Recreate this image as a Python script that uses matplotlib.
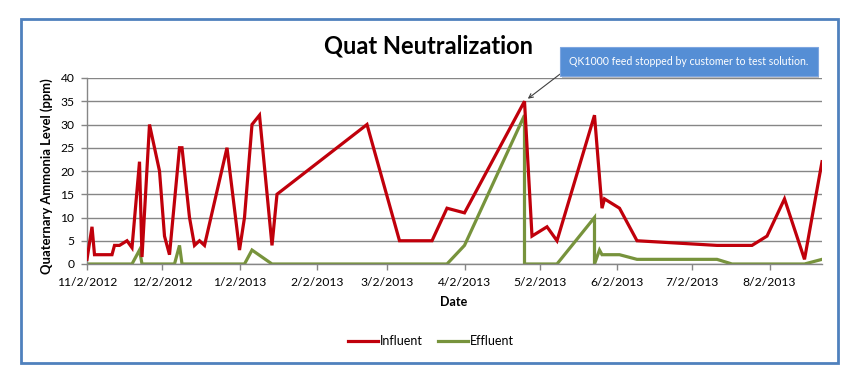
import datetime as dt
import matplotlib
matplotlib.use("Agg")
import matplotlib.pyplot as plt
import matplotlib.dates as mdates
import matplotlib.patheffects as pe
from matplotlib.patches import Rectangle
from matplotlib.ticker import FuncFormatter, MultipleLocator

plt.rcParams['font.family'] = ['Lato', 'DejaVu Sans']

# Influent readings (date, ppm)
influent_dates = [
    "2012-11-02", "2012-11-04", "2012-11-05", "2012-11-08", "2012-11-12", "2012-11-13",
    "2012-11-15", "2012-11-18", "2012-11-20", "2012-11-23", "2012-11-24", "2012-11-27",
    "2012-12-01", "2012-12-03", "2012-12-05", "2012-12-09", "2012-12-10", "2012-12-13",
    "2012-12-15", "2012-12-17", "2012-12-19", "2012-12-28", "2013-01-02", "2013-01-04",
    "2013-01-07", "2013-01-10", "2013-01-15", "2013-01-17", "2013-02-22", "2013-03-07",
    "2013-03-20", "2013-03-26", "2013-04-02", "2013-04-26", "2013-04-29", "2013-05-05",
    "2013-05-09", "2013-05-24", "2013-05-27", "2013-05-28", "2013-06-03", "2013-06-10",
    "2013-07-12", "2013-07-26", "2013-08-01", "2013-08-08", "2013-08-16", "2013-08-23",
]
influent = [
    1, 8, 2, 2, 2, 4,
    4, 5, 3.5, 22, 1.5, 30,
    20, 6, 2, 25, 25, 10,
    4, 5, 4, 25, 3, 10,
    30, 32, 4, 15, 30, 5,
    5, 12, 11, 35, 6, 8,
    5, 32, 12, 14, 12, 5,
    4, 4, 6, 14, 1, 22,
]

# Effluent readings (date, ppm)
effluent_dates = [
    "2012-11-02", "2012-11-20", "2012-11-23", "2012-11-24", "2012-12-07", "2012-12-09",
    "2012-12-10", "2013-01-04", "2013-01-07", "2013-01-15", "2013-03-26", "2013-04-02",
    "2013-04-26", "2013-04-26", "2013-05-09", "2013-05-24", "2013-05-24", "2013-05-26",
    "2013-05-27", "2013-06-03", "2013-06-10", "2013-07-12", "2013-07-18", "2013-08-16",
    "2013-08-23",
]
effluent = [
    0, 0, 3, 0, 0, 4,
    0, 0, 3, 0, 0, 4,
    32, 0, 0, 10, 0, 3,
    2, 2, 1, 1, 0, 0,
    1,
]

tick_dates = ["2012-11-02", "2012-12-02", "2013-01-02", "2013-02-02", "2013-03-02",
              "2013-04-02", "2013-05-02", "2013-06-02", "2013-07-02", "2013-08-02"]

note = "QK1000 feed stopped by customer to test solution."

to_dt = lambda s: dt.datetime.strptime(s, "%Y-%m-%d")
inf_x = [to_dt(d) for d in influent_dates]
eff_x = [to_dt(d) for d in effluent_dates]

W, H = 857, 388
fig = plt.figure(figsize=(W / 100, H / 100), dpi=100)
ax = fig.add_axes([87 / W, 1 - 264 / H, (822 - 87) / W, (264 - 78) / H])

ax.plot(inf_x, influent, color='#C0000B', lw=2.3, label='Influent', zorder=3,
        solid_joinstyle='miter')
ax.plot(eff_x, effluent, color='#77933C', lw=2.3, label='Effluent', zorder=2,
        solid_joinstyle='miter')

ax.set_ylim(0, 40)
ax.set_xlim(to_dt("2012-11-02"), to_dt("2013-08-23"))
ax.yaxis.set_major_locator(MultipleLocator(5))
ax.set_xticks([to_dt(d) for d in tick_dates])
ax.xaxis.set_major_formatter(FuncFormatter(
    lambda v, p: "{0.month}/{0.day}/{0.year}".format(mdates.num2date(v))))

ax.grid(axis='y', color='#868686', lw=1.0)
ax.set_axisbelow(True)
for s in ['top', 'right']:
    ax.spines[s].set_visible(False)
for s in ['left', 'bottom']:
    ax.spines[s].set_color('#868686')
    ax.spines[s].set_linewidth(1.0)
ax.tick_params(axis='both', colors='#868686', labelcolor='black', labelsize=8.7,
               length=4, width=1.0)
ax.tick_params(axis='y', pad=5)
ax.tick_params(axis='x', pad=5)

fig.text(428 / W, 1 - 46 / H, "Quat Neutralization", ha='center', va='center',
         fontsize=17, fontweight='bold')
fig.text(47 / W, 1 - 176 / H, "Quaternary Ammonia Level (ppm)", rotation=90,
         ha='center', va='center', fontsize=9.4, fontweight='bold')
fig.text(454 / W, 1 - 302 / H, "Date", ha='center', va='center',
         fontsize=9, fontweight='bold')

ax.legend(loc='center', bbox_to_anchor=(431 / W, 1 - 341 / H),
          bbox_transform=fig.transFigure, ncol=2, frameon=False, fontsize=9,
          handlelength=2.4, handletextpad=0.15, columnspacing=1.2)

# callout box
ann = ax.annotate(note, xy=(to_dt("2013-04-26"), 35), xycoords='data',
                  xytext=(689 / W, 1 - 61.5 / H), textcoords='figure fraction',
                  ha='center', va='center', fontsize=7.6, color='white',
                  bbox=dict(boxstyle='square,pad=0.85', fc='#558ED5', ec='#7EA6E0', lw=0.8),
                  arrowprops=dict(arrowstyle='->', color='#404040', lw=0.8,
                                  relpos=(0, 0), shrinkA=0, shrinkB=3))
ann.get_bbox_patch().set_path_effects(
    [pe.SimplePatchShadow(offset=(1, -1.5), shadow_rgbFace='#808080', alpha=0.5),
     pe.Normal()])

# chart border
fig.patches.append(Rectangle((21 / W, 1 - 363 / H), (838 - 21) / W, (363 - 19) / H,
                             transform=fig.transFigure, fill=False,
                             ec='#4F81BD', lw=2))

fig.savefig("out.png", dpi=100)
